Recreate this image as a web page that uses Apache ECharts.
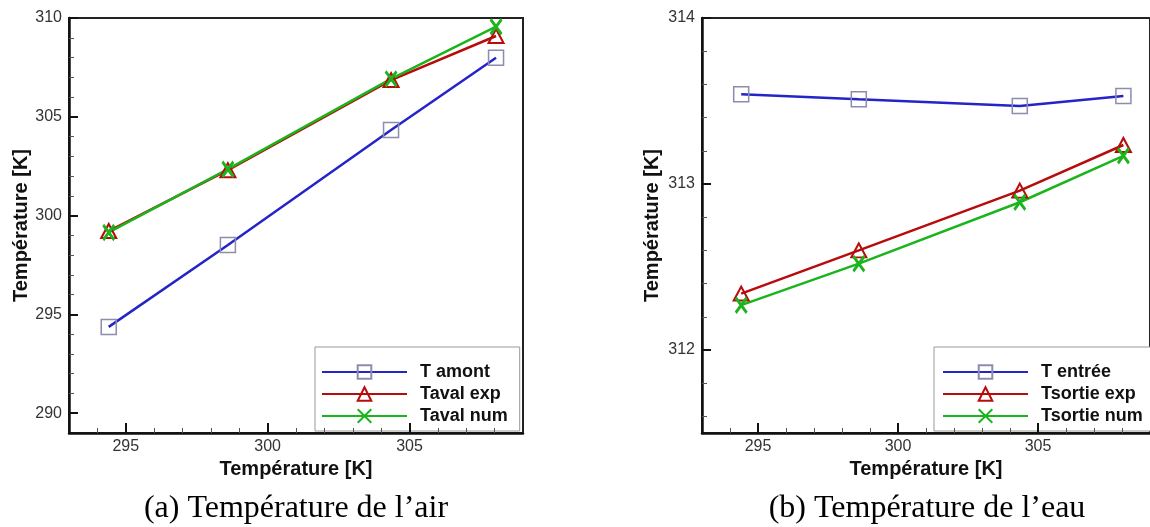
<!DOCTYPE html>
<html>
<head>
<meta charset="utf-8">
<script src="https://cdn.jsdelivr.net/npm/echarts@6/dist/echarts.min.js"></script>
<style>
  html, body { margin: 0; padding: 0; background: #fff; }
  #chart { width: 1150px; height: 527px; }
</style>
</head>
<body>
<div id="chart"></div>
<script>
// ---- data ----
const airX = [294.4, 298.6, 304.35, 308.05];
const tAmont = [294.37, 298.51, 304.33, 307.99];
const tAvalExp = [299.22, 302.30, 306.86, 309.09];
const tAvalNum = [299.15, 302.35, 306.92, 309.56];
const tEntree = [313.54, 313.51, 313.47, 313.53];
const tSortieExp = [312.34, 312.60, 312.96, 313.235];
const tSortieNum = [312.27, 312.52, 312.89, 313.17];

const namesA = ['T amont', 'Taval exp', 'Taval num'];
const namesB = ['T entrée', 'Tsortie exp', 'Tsortie num'];

const xMajor = [295, 300, 305];
const xMinor = [294, 296, 297, 298, 299, 301, 302, 303, 304, 306, 307, 308];
const yMajorA = [290, 295, 300, 305, 310];
const yMinorA = [291, 292, 293, 294, 296, 297, 298, 299, 301, 302, 303, 304, 306, 307, 308, 309];
const yMajorB = [312, 313, 314];
const yMinorB = [311.6, 311.8, 312.2, 312.4, 312.6, 312.8, 313.2, 313.4, 313.6, 313.8];

const xRange = [293, 309];
const yRangeA = [289, 310];
const yRangeB = [311.5, 314];

const axisTitle = 'Température [K]';
const captionA = '(a) Température de l\u2019air';
const captionB = '(b) Température de l\u2019eau';

// ---- layout ----
const SANS = '"Liberation Sans", Arial, sans-serif';
const SERIF = '"Liberation Serif", "Times New Roman", serif';
const gA = { left: 69, top: 18, width: 454, height: 415 };
const gB = { left: 702, top: 18, width: 450, height: 415 };

const C_BLUE = '#2424c8', C_RED = '#b80c0c', C_GREEN = '#1cb41c', C_SQ = '#8c8cae';
const crossPath = 'path://M0,0L10,14M10,0L0,14';

function pairs(xs, ys) { return xs.map((x, i) => [x, ys[i]]); }

function mainX(gi) {
  return {
    type: 'value', gridIndex: gi, min: xRange[0], max: xRange[1], z: 10,
    name: axisTitle, nameLocation: 'middle', nameGap: 20,
    nameTextStyle: { fontFamily: SANS, fontWeight: 'bold', fontSize: 20, color: '#111', verticalAlign: 'top' },
    axisLine: { show: true, lineStyle: { color: '#111', width: 2.5 } },
    axisTick: { show: true, inside: true, length: 10, customValues: xMajor, lineStyle: { color: '#111', width: 2 } },
    axisLabel: { show: true, customValues: xMajor, margin: 6, fontFamily: SANS, fontSize: 16, color: '#333' },
    splitLine: { show: false }
  };
}
function minorX(gi) {
  return {
    type: 'value', gridIndex: gi, min: xRange[0], max: xRange[1], z: 10, position: 'bottom',
    axisLine: { show: false },
    axisTick: { show: true, inside: true, length: 5, customValues: xMinor, lineStyle: { color: '#555', width: 1 } },
    axisLabel: { show: false }, splitLine: { show: false }
  };
}
function mainY(gi, range, major, gap) {
  return {
    type: 'value', gridIndex: gi, min: range[0], max: range[1], z: 10,
    name: axisTitle, nameLocation: 'middle', nameGap: gap,
    nameTextStyle: { fontFamily: SANS, fontWeight: 'bold', fontSize: 20, color: '#111' },
    axisLine: { show: true, lineStyle: { color: '#111', width: 2.5 } },
    axisTick: { show: true, inside: true, length: 9, customValues: major, lineStyle: { color: '#111', width: 2 } },
    axisLabel: { show: true, customValues: major, margin: 7, fontFamily: SANS, fontSize: 16, color: '#333' },
    splitLine: { show: false }
  };
}
function minorY(gi, range, minor) {
  return {
    type: 'value', gridIndex: gi, min: range[0], max: range[1], z: 10, position: 'left',
    axisLine: { show: false },
    axisTick: { show: true, inside: true, length: 5, customValues: minor, lineStyle: { color: '#555', width: 1 } },
    axisLabel: { show: false }, splitLine: { show: false }
  };
}

function makeSeries(name, xi, yi, xs, ys, kind) {
  const base = {
    name, type: 'line', xAxisIndex: xi, yAxisIndex: yi, data: pairs(xs, ys),
    showSymbol: true, symbolKeepAspect: false, animation: false, z: 3
  };
  if (kind === 'sq') {
    Object.assign(base, {
      symbol: 'rect', symbolSize: 15,
      lineStyle: { color: C_BLUE, width: 2.5 },
      itemStyle: { color: 'rgba(255,255,255,0)', borderColor: C_SQ, borderWidth: 1.5 }
    });
  } else if (kind === 'tri') {
    Object.assign(base, {
      symbol: 'triangle', symbolSize: [15, 14],
      lineStyle: { color: C_RED, width: 2.5 },
      itemStyle: { color: 'rgba(255,255,255,0)', borderColor: C_RED, borderWidth: 2 }
    });
  } else {
    Object.assign(base, {
      symbol: crossPath, symbolSize: [11, 15],
      lineStyle: { color: C_GREEN, width: 2.5 },
      itemStyle: { color: 'rgba(255,255,255,0)', borderColor: C_GREEN, borderWidth: 3 }
    });
  }
  return base;
}

function makeLegend(names, left, padLeft) {
  return {
    orient: 'vertical', left: left, top: 347, data: names,
    itemWidth: 85, itemHeight: 17, itemGap: 4,
    padding: [16, 12, 6, padLeft],
    backgroundColor: '#fff', borderColor: '#999', borderWidth: 1, z: 5,
    textStyle: { fontFamily: SANS, fontWeight: 'bold', fontSize: 18, color: '#111', lineHeight: 17, padding: [0, 0, 0, 8] },
    selectedMode: false
  };
}

const chart = echarts.init(document.getElementById('chart'), null, { renderer: 'canvas' });
chart.setOption({
  backgroundColor: '#fff',
  animation: false,
  grid: [
    Object.assign({ show: true, borderColor: '#222', borderWidth: 2, backgroundColor: 'transparent' }, gA),
    Object.assign({ show: true, borderColor: '#222', borderWidth: 2, backgroundColor: 'transparent' }, gB)
  ],
  xAxis: [mainX(0), minorX(0), mainX(1), minorX(1)],
  yAxis: [mainY(0, yRangeA, yMajorA, 34), minorY(0, yRangeA, yMinorA), mainY(1, yRangeB, yMajorB, 40), minorY(1, yRangeB, yMinorB)],
  legend: [makeLegend(namesA, 315, 6), makeLegend(namesB, 934, 8)],
  series: [
    makeSeries(namesA[0], 0, 0, airX, tAmont, 'sq'),
    makeSeries(namesA[1], 0, 0, airX, tAvalExp, 'tri'),
    makeSeries(namesA[2], 0, 0, airX, tAvalNum, 'x'),
    makeSeries(namesB[0], 2, 2, airX, tEntree, 'sq'),
    makeSeries(namesB[1], 2, 2, airX, tSortieExp, 'tri'),
    makeSeries(namesB[2], 2, 2, airX, tSortieNum, 'x')
  ],
  graphic: [
    { type: 'text', x: gA.left + gA.width / 2, y: 509, silent: true,
      style: { text: captionA, font: '32px ' + SERIF, fill: '#000', align: 'center', verticalAlign: 'middle', textAlign: 'center', textVerticalAlign: 'middle' } },
    { type: 'text', x: gB.left + gB.width / 2, y: 509, silent: true,
      style: { text: captionB, font: '32px ' + SERIF, fill: '#000', align: 'center', verticalAlign: 'middle', textAlign: 'center', textVerticalAlign: 'middle' } }
  ]
});
</script>
</body>
</html>
